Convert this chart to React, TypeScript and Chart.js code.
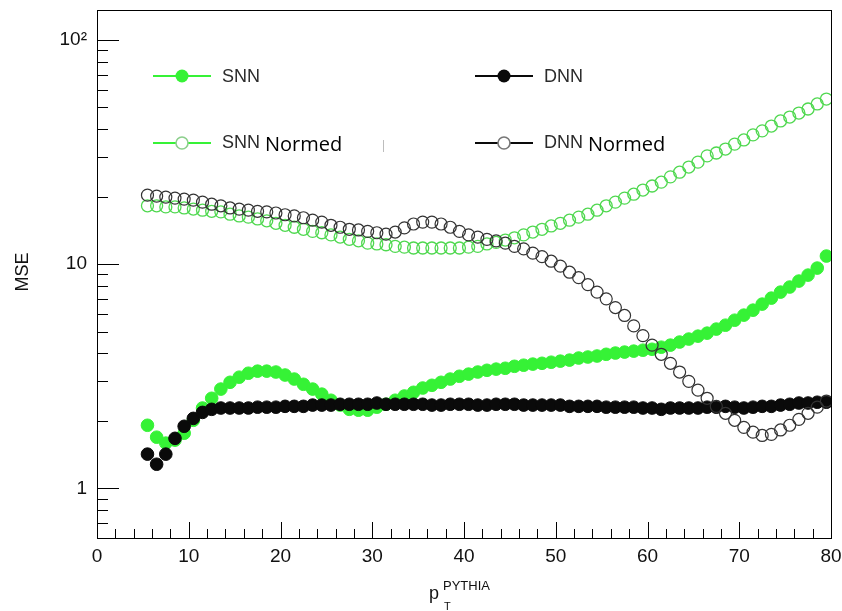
import { useEffect, useRef } from 'react';
import { Chart, registerables } from 'chart.js';

Chart.register(...registerables);

// ---- data ----
const pT = [
  5.5, 6.5, 7.5, 8.5, 9.5, 10.5, 11.5, 12.5, 13.5, 14.5,
  15.5, 16.5, 17.5, 18.5, 19.5, 20.5, 21.5, 22.5, 23.5, 24.5,
  25.5, 26.5, 27.5, 28.5, 29.5, 30.5, 31.5, 32.5, 33.5, 34.5,
  35.5, 36.5, 37.5, 38.5, 39.5, 40.5, 41.5, 42.5, 43.5, 44.5,
  45.5, 46.5, 47.5, 48.5, 49.5, 50.5, 51.5, 52.5, 53.5, 54.5,
  55.5, 56.5, 57.5, 58.5, 59.5, 60.5, 61.5, 62.5, 63.5, 64.5,
  65.5, 66.5, 67.5, 68.5, 69.5, 70.5, 71.5, 72.5, 73.5, 74.5,
  75.5, 76.5, 77.5, 78.5, 79.5,
];

const snn = [
  1.91, 1.69, 1.59, 1.64, 1.76, 2.01, 2.28, 2.52, 2.77, 2.97,
  3.13, 3.26, 3.33, 3.33, 3.30, 3.20, 3.07, 2.91, 2.77, 2.63,
  2.47, 2.35, 2.25, 2.23, 2.23, 2.30, 2.37, 2.47, 2.58, 2.68,
  2.80, 2.88, 2.97, 3.07, 3.16, 3.23, 3.30, 3.36, 3.40, 3.43,
  3.50, 3.54, 3.58, 3.61, 3.65, 3.69, 3.73, 3.81, 3.85, 3.89,
  3.96, 4.01, 4.05, 4.09, 4.13, 4.17, 4.26, 4.35, 4.49, 4.63,
  4.77, 4.92, 5.13, 5.34, 5.62, 5.92, 6.23, 6.63, 7.05, 7.50,
  7.90, 8.40, 8.93, 9.60, 10.86,
];

const dnn = [
  1.42, 1.28, 1.42, 1.67, 1.89, 2.05, 2.18, 2.25, 2.28, 2.28,
  2.28, 2.28, 2.30, 2.30, 2.30, 2.32, 2.32, 2.32, 2.35, 2.35,
  2.35, 2.37, 2.37, 2.37, 2.37, 2.40, 2.37, 2.37, 2.37, 2.37,
  2.37, 2.35, 2.35, 2.37, 2.37, 2.37, 2.35, 2.35, 2.37, 2.37,
  2.37, 2.35, 2.35, 2.35, 2.35, 2.35, 2.32, 2.32, 2.32, 2.32,
  2.30, 2.30, 2.30, 2.30, 2.28, 2.28, 2.25, 2.28, 2.28, 2.28,
  2.28, 2.30, 2.30, 2.32, 2.30, 2.28, 2.30, 2.32, 2.32, 2.35,
  2.37, 2.40, 2.40, 2.42, 2.42,
];

const snnNormed = [
  18.2, 18.2, 18.0, 18.0, 17.8, 17.6, 17.4, 17.2, 17.1, 16.7,
  16.4, 16.2, 15.9, 15.6, 15.2, 14.9, 14.6, 14.3, 14.0, 13.8,
  13.5, 13.2, 12.9, 12.7, 12.4, 12.3, 12.2, 12.0, 11.9, 11.8,
  11.8, 11.8, 11.8, 11.8, 11.8, 11.9, 12.0, 12.3, 12.5, 12.8,
  13.1, 13.5, 13.9, 14.3, 14.8, 15.2, 15.7, 16.2, 16.7, 17.4,
  18.2, 18.9, 19.7, 20.5, 21.4, 22.3, 23.2, 24.5, 25.7, 27.1,
  28.5, 30.4, 31.3, 32.6, 34.3, 35.8, 37.7, 39.3, 41.3, 43.5,
  45.3, 47.2, 49.2, 51.8, 54.5,
];

const dnnNormed = [
  20.3, 20.1, 19.9, 19.7, 19.5, 19.3, 18.9, 18.5, 18.2, 17.8,
  17.6, 17.4, 17.2, 17.1, 16.9, 16.6, 16.4, 16.1, 15.7, 15.4,
  14.9, 14.6, 14.3, 14.2, 14.0, 13.8, 13.6, 13.9, 14.5, 15.1,
  15.4, 15.4, 15.1, 14.6, 14.0, 13.5, 13.2, 12.9, 12.7, 12.4,
  12.0, 11.7, 11.2, 10.8, 10.3, 9.8, 9.2, 8.7, 8.1, 7.5,
  7.0, 6.4, 5.9, 5.3, 4.8, 4.35, 3.96, 3.61, 3.30, 3.00,
  2.74, 2.52, 2.32, 2.16, 2.01, 1.87, 1.78, 1.72, 1.74, 1.82,
  1.91, 2.03, 2.16, 2.30, 2.45,
];

const xTickValues = [0, 10, 20, 30, 40, 50, 60, 70, 80];
const yTickValues = [1, 10, 100];
const yTickLabels = ['1', '10', '10²'];

const legendNames = ['SNN', 'DNN', 'SNN', 'DNN'];
const legendSuffix = ['', '', 'Normed', 'Normed'];

// ---- styles ----
const GREEN = '#36f236';
const GREEN_OPEN = '#4fd84f';
const BLACK = '#0a0a0a';
const GRAY_OPEN = '#333333';
const SANS = "'Liberation Sans', Arial, sans-serif";

const decoPlugin = {
  id: 'deco',
  afterDraw(chart: any) {
    const { ctx, chartArea: a, scales } = chart;
    const xs = scales.x;
    const ys = scales.y;
    ctx.save();
    // frame
    ctx.strokeStyle = '#000';
    ctx.lineWidth = 1;
    ctx.strokeRect(Math.round(a.left) + 0.5, Math.round(a.top) + 0.5, Math.round(a.right - a.left), Math.round(a.bottom - a.top));

    // x ticks (inward)
    ctx.beginPath();
    for (let v = xs.min; v <= xs.max + 1e-9; v += 2) {
      const px = Math.round(xs.getPixelForValue(v)) + 0.5;
      const len = Math.abs(v % 10) < 1e-9 ? 16 : 9;
      ctx.moveTo(px, a.bottom);
      ctx.lineTo(px, a.bottom - len);
    }
    // y ticks (inward)
    for (const dec of [0.1, 1, 10, 100]) {
      for (let m = 1; m <= 9; m++) {
        const v = m * dec;
        if (v < ys.min - 1e-9 || v > ys.max) continue;
        const py = Math.round(ys.getPixelForValue(v)) + 0.5;
        const len = m === 1 ? 22 : 11;
        ctx.moveTo(a.left, py);
        ctx.lineTo(a.left + len, py);
      }
    }
    ctx.stroke();

    // y title
    ctx.fillStyle = '#111';
    ctx.font = `18px ${SANS}`;
    ctx.save();
    ctx.translate(28, 272);
    ctx.rotate(-Math.PI / 2);
    ctx.textAlign = 'center';
    ctx.textBaseline = 'alphabetic';
    ctx.fillText('MSE', 0, 0);
    ctx.restore();

    // x title  p_T^PYTHIA
    ctx.textAlign = 'left';
    ctx.textBaseline = 'alphabetic';
    ctx.font = `18px ${SANS}`;
    ctx.fillText('p', 429, 599);
    ctx.font = `13px ${SANS}`;
    ctx.fillText('PYTHIA', 443, 590);
    ctx.font = `11px ${SANS}`;
    ctx.fillText('T', 444, 610);

    // legend
    const ds = chart.data.datasets;
    const cols = [153, 475];
    const rows = [76, 143];
    const entries = [
      { d: ds[0], c: 0, r: 0, name: legendNames[0], suf: legendSuffix[0], line: GREEN },
      { d: ds[1], c: 1, r: 0, name: legendNames[1], suf: legendSuffix[1], line: BLACK },
      { d: ds[2], c: 0, r: 1, name: legendNames[2], suf: legendSuffix[2], line: GREEN },
      { d: ds[3], c: 1, r: 1, name: legendNames[3], suf: legendSuffix[3], line: BLACK },
    ];
    for (const e of entries) {
      const x0 = cols[e.c];
      const y0 = rows[e.r];
      ctx.strokeStyle = e.line;
      ctx.lineWidth = 2.2;
      ctx.beginPath();
      ctx.moveTo(x0, y0);
      ctx.lineTo(x0 + 58, y0);
      ctx.stroke();
      const cx = x0 + 29;
      ctx.beginPath();
      ctx.arc(cx, y0, e.r === 0 ? 6.5 : 6, 0, Math.PI * 2);
      if (e.r === 0) {
        ctx.fillStyle = e.d.backgroundColor;
        ctx.fill();
      } else {
        ctx.fillStyle = '#fff';
        ctx.fill();
        ctx.strokeStyle = e.c === 0 ? '#8ccf8c' : '#777';
        ctx.lineWidth = 1.6;
        ctx.stroke();
      }
      ctx.fillStyle = '#2b2b2b';
      ctx.font = `18px ${SANS}`;
      const tx = x0 + 69;
      const ty = y0 + (e.r === 0 ? 6 : 5);
      ctx.fillText(e.name, tx, ty);
      if (e.suf) {
        const w = ctx.measureText(e.name).width;
        ctx.fillStyle = '#000';
        ctx.font = "20px 'Open Sans', 'Liberation Sans', sans-serif";
        ctx.fillText(e.suf, tx + w + 5, y0 + 8);
      }
    }
    // small stray mark next to legend
    ctx.strokeStyle = '#bdbdbd';
    ctx.lineWidth = 1;
    ctx.beginPath();
    ctx.moveTo(383.5, 140);
    ctx.lineTo(383.5, 152);
    ctx.stroke();

    ctx.restore();
  },
};

export default function App() {
  const ref = useRef<HTMLCanvasElement | null>(null);

  useEffect(() => {
    if (!ref.current) return;
    const pts = (arr: number[]) => pT.map((x, i) => ({ x, y: arr[i] }));
    const chart = new Chart(ref.current, {
      type: 'scatter',
      data: {
        datasets: [
          {
            label: 'SNN',
            data: pts(snn),
            backgroundColor: GREEN,
            borderColor: GREEN,
            borderWidth: 1,
            pointRadius: 6.3,
            order: 4,
          },
          {
            label: 'DNN',
            data: pts(dnn),
            backgroundColor: BLACK,
            borderColor: BLACK,
            borderWidth: 1,
            pointRadius: 6.3,
            order: 3,
          },
          {
            label: 'SNN Normed',
            data: pts(snnNormed),
            backgroundColor: 'rgba(0,0,0,0)',
            borderColor: GREEN_OPEN,
            borderWidth: 1.3,
            pointRadius: 6,
            order: 2,
          },
          {
            label: 'DNN Normed',
            data: pts(dnnNormed),
            backgroundColor: 'rgba(0,0,0,0)',
            borderColor: GRAY_OPEN,
            borderWidth: 1.2,
            pointRadius: 6,
            order: 1,
          },
        ] as any,
      },
      options: {
        animation: false,
        responsive: false,
        devicePixelRatio: 1,
        layout: { padding: { top: 10, right: 11, left: 0, bottom: 0 } },
        plugins: {
          legend: { display: false },
          tooltip: { enabled: false },
        },
        scales: {
          x: {
            type: 'linear',
            min: 0,
            max: 80,
            grid: { display: false, drawTicks: false },
            border: { display: false },
            afterBuildTicks: (s: any) => {
              s.ticks = xTickValues.map((v) => ({ value: v }));
            },
            afterFit: (s: any) => {
              s.height = 73;
              s.paddingLeft = 0;
              s.paddingRight = 0;
            },
            ticks: {
              padding: 7,
              color: '#111',
              font: { family: SANS, size: 19 },
              maxRotation: 0,
              callback: (v: any) => String(v),
            },
          },
          y: {
            type: 'logarithmic',
            min: 0.6,
            max: 136,
            grid: { display: false, drawTicks: false },
            border: { display: false },
            afterBuildTicks: (s: any) => {
              s.ticks = yTickValues.map((v) => ({ value: v }));
            },
            afterFit: (s: any) => {
              s.width = 97;
              s.paddingTop = 0;
              s.paddingBottom = 0;
            },
            ticks: {
              padding: 10,
              color: '#111',
              font: { family: SANS, size: 19 },
              callback: (v: any) => {
                const i = yTickValues.indexOf(Number(v));
                return i >= 0 ? yTickLabels[i] : '';
              },
            },
          },
        },
      } as any,
      plugins: [decoPlugin],
    });
    return () => chart.destroy();
  }, []);

  return (
    <div style={{ position: 'fixed', left: 0, top: 0, width: 842, height: 611, background: '#fff' }}>
      <canvas ref={ref} width={842} height={611} style={{ display: 'block', width: 842, height: 611 }} />
    </div>
  );
}
